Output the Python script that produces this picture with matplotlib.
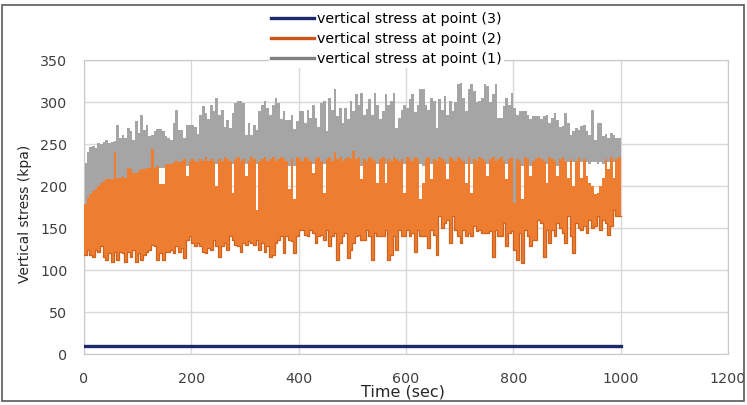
import numpy as np
import matplotlib.pyplot as plt
from matplotlib.lines import Line2D
from matplotlib.patches import Rectangle

plt.rcParams['font.family'] = ['DejaVu Sans']

# each record is one 5 s bin from 0 to 1000 s; max/min stress in the bin (kPa)
t_step = 5
t_end = 1000

# point (1)
p1_max = [227, 241, 247, 248, 245, 251, 250, 252, 255, 251,
          252, 253, 273, 257, 261, 257, 269, 265, 255, 277,
          263, 285, 267, 273, 259, 261, 265, 268, 268, 265,
          259, 257, 255, 275, 290, 267, 267, 257, 273, 273,
          273, 270, 262, 285, 295, 287, 280, 297, 289, 305,
          285, 291, 270, 279, 269, 287, 299, 301, 301, 299,
          261, 275, 261, 273, 267, 289, 296, 301, 293, 285,
          297, 305, 299, 280, 289, 279, 279, 285, 268, 277,
          289, 289, 275, 291, 281, 297, 281, 270, 299, 301,
          265, 305, 290, 315, 283, 293, 275, 293, 280, 301,
          289, 309, 297, 311, 285, 292, 303, 285, 311, 297,
          280, 289, 309, 297, 301, 311, 269, 281, 290, 297,
          293, 303, 309, 288, 297, 315, 315, 297, 290, 305,
          301, 269, 303, 290, 307, 285, 301, 289, 300, 321,
          323, 305, 289, 315, 321, 313, 300, 301, 305, 321,
          319, 300, 309, 321, 281, 281, 295, 305, 297, 311,
          293, 285, 289, 289, 289, 285, 280, 283, 283, 283,
          280, 283, 285, 275, 281, 287, 279, 270, 271, 287,
          275, 261, 265, 269, 267, 271, 273, 265, 261, 291,
          255, 275, 275, 259, 262, 257, 263, 261, 257, 257]
p1_min = [176, 184, 188, 192, 194, 198, 202, 204, 206, 206,
          206, 208, 208, 208, 210, 208, 216, 216, 214, 214,
          216, 218, 218, 220, 220, 222, 220, 222, 222, 222,
          222, 224, 222, 226, 224, 226, 224, 226, 224, 226,
          226, 224, 226, 224, 226, 224, 226, 224, 206, 226,
          226, 224, 226, 224, 226, 226, 224, 226, 224, 226,
          226, 224, 226, 224, 226, 226, 224, 226, 224, 226,
          226, 224, 226, 224, 226, 226, 224, 226, 224, 226,
          226, 224, 226, 224, 226, 226, 224, 226, 224, 226,
          226, 224, 226, 224, 226, 226, 224, 226, 224, 226,
          226, 224, 226, 224, 226, 226, 224, 226, 224, 226,
          226, 224, 226, 224, 226, 226, 206, 226, 224, 226,
          226, 224, 226, 224, 226, 226, 224, 226, 224, 226,
          226, 224, 226, 224, 226, 226, 224, 226, 224, 226,
          226, 224, 226, 224, 226, 226, 224, 226, 224, 226,
          226, 224, 226, 224, 226, 226, 224, 226, 224, 226,
          178, 224, 226, 224, 226, 226, 224, 226, 224, 226,
          226, 224, 226, 224, 226, 226, 224, 226, 224, 226,
          228, 226, 228, 226, 228, 228, 226, 228, 226, 228,
          228, 226, 228, 226, 228, 228, 226, 228, 226, 228]

# point (2)
p2_max = [178, 186, 190, 194, 196, 200, 204, 206, 208, 208,
          208, 240, 210, 210, 212, 210, 222, 220, 216, 216,
          218, 220, 220, 222, 222, 244, 222, 224, 202, 202,
          226, 226, 226, 228, 230, 228, 230, 232, 212, 230,
          232, 230, 228, 232, 230, 234, 230, 232, 230, 200,
          232, 230, 234, 232, 230, 192, 232, 234, 230, 232,
          212, 230, 234, 232, 172, 230, 232, 234, 230, 232,
          234, 230, 232, 234, 232, 230, 196, 232, 184, 234,
          232, 230, 234, 232, 230, 215, 232, 234, 230, 192,
          232, 234, 230, 240, 232, 234, 230, 232, 234, 232,
          242, 232, 234, 208, 232, 230, 234, 232, 230, 204,
          232, 234, 204, 232, 230, 234, 232, 230, 232, 192,
          234, 232, 230, 234, 232, 184, 204, 232, 234, 208,
          232, 230, 234, 232, 230, 208, 234, 232, 230, 234,
          232, 230, 204, 234, 192, 232, 230, 234, 232, 230,
          212, 232, 234, 230, 232, 234, 230, 208, 232, 234,
          180, 232, 230, 184, 234, 232, 212, 230, 232, 234,
          232, 230, 204, 234, 232, 230, 212, 232, 234, 230,
          210, 232, 200, 230, 234, 210, 232, 212, 204, 200,
          190, 192, 200, 210, 232, 220, 234, 210, 232, 234]
p2_min = [118, 124, 118, 116, 124, 122, 128, 116, 112, 120,
          110, 122, 112, 122, 120, 110, 122, 116, 124, 110,
          120, 112, 118, 122, 124, 130, 128, 112, 120, 112,
          122, 122, 124, 120, 128, 122, 126, 114, 136, 140,
          132, 128, 132, 128, 122, 120, 126, 124, 136, 128,
          116, 128, 132, 124, 140, 136, 130, 128, 122, 132,
          130, 134, 132, 130, 136, 124, 132, 122, 128, 116,
          118, 132, 136, 140, 120, 140, 136, 134, 120, 140,
          148, 148, 142, 140, 148, 144, 132, 140, 142, 136,
          148, 128, 140, 144, 112, 132, 140, 144, 114, 124,
          132, 140, 142, 136, 136, 148, 140, 112, 144, 140,
          140, 140, 148, 112, 118, 140, 124, 148, 140, 140,
          148, 140, 144, 122, 148, 140, 140, 140, 126, 148,
          142, 118, 164, 150, 156, 160, 132, 164, 148, 140,
          132, 148, 140, 144, 140, 152, 146, 148, 144, 144,
          144, 146, 116, 148, 140, 140, 156, 128, 144, 146,
          124, 112, 144, 108, 148, 140, 128, 136, 136, 160,
          156, 116, 148, 132, 148, 140, 156, 150, 144, 132,
          164, 140, 120, 156, 150, 148, 152, 144, 160, 150,
          152, 164, 148, 160, 156, 142, 152, 172, 164, 164]

# point (3)
p3_time = [0, 1000]
p3_val = [10, 10]

labels = ['vertical stress at point (3)',
          'vertical stress at point (2)',
          'vertical stress at point (1)']
c_p3 = '#1B2A6B'
c_p2 = '#ED7D31'
c_p1 = '#A5A5A5'

edges = np.arange(0, t_end + t_step, t_step)


def band(ax, lo, hi, color, z, edge=None):
    lo = np.append(lo, lo[-1])
    hi = np.append(hi, hi[-1])
    ax.fill_between(edges, lo, hi, step='post', color=color, lw=0, zorder=z)
    if edge:
        # darker rim along the lower peaks
        ax.step(edges, lo, where='post', color=edge, lw=0.9, zorder=z)


fig = plt.figure(figsize=(7.47, 4.05), dpi=100)
ax = fig.add_axes([84 / 747, 1 - 354 / 405, 644 / 747, 294 / 405])

band(ax, p1_min, p1_max, c_p1, 2)
band(ax, p2_min, p2_max, c_p2, 3, edge='#D0631C')
ax.plot(p3_time, p3_val, color=c_p3, lw=2.4, zorder=4)

ax.set_xlim(0, 1200)
ax.set_ylim(0, 350)
ax.set_xticks(np.arange(0, 1201, 200))
ax.set_yticks(np.arange(0, 351, 50))
ax.grid(True, color='#D9D9D9', lw=1)
ax.set_axisbelow(True)
for s in ax.spines.values():
    s.set_color('#C8C8C8')
ax.tick_params(length=0, labelsize=10.3, colors='#404040')
ax.tick_params(axis='x', pad=13)
ax.tick_params(axis='y', pad=12)

ax.set_xlabel('Time (sec)', fontsize=11.5, color='#262626')
ax.xaxis.set_label_coords(0.495, -0.103)
ax.set_ylabel('Vertical stress (kpa)', fontsize=10, color='#262626')
ax.yaxis.set_label_coords(-0.08, 0.478)

handles = [Line2D([], [], color=c, lw=2.4) for c in ('#1B2A6B', '#C9561A', '#808080')]
leg = fig.legend(handles, labels, loc='upper center', bbox_to_anchor=(0.517, 0.975),
                 fontsize=10.3, frameon=True, facecolor='white', edgecolor='none',
                 framealpha=1, labelspacing=0.42, handlelength=3.0, handletextpad=0.2,
                 borderpad=0.15, borderaxespad=0)
leg.set_zorder(10)

fig.patches.append(Rectangle((2 / 747, 4 / 405), 742 / 747, 396 / 405,
                             transform=fig.transFigure, fill=False,
                             edgecolor='#595959', lw=1.2))

fig.savefig('out.png', dpi=100)
